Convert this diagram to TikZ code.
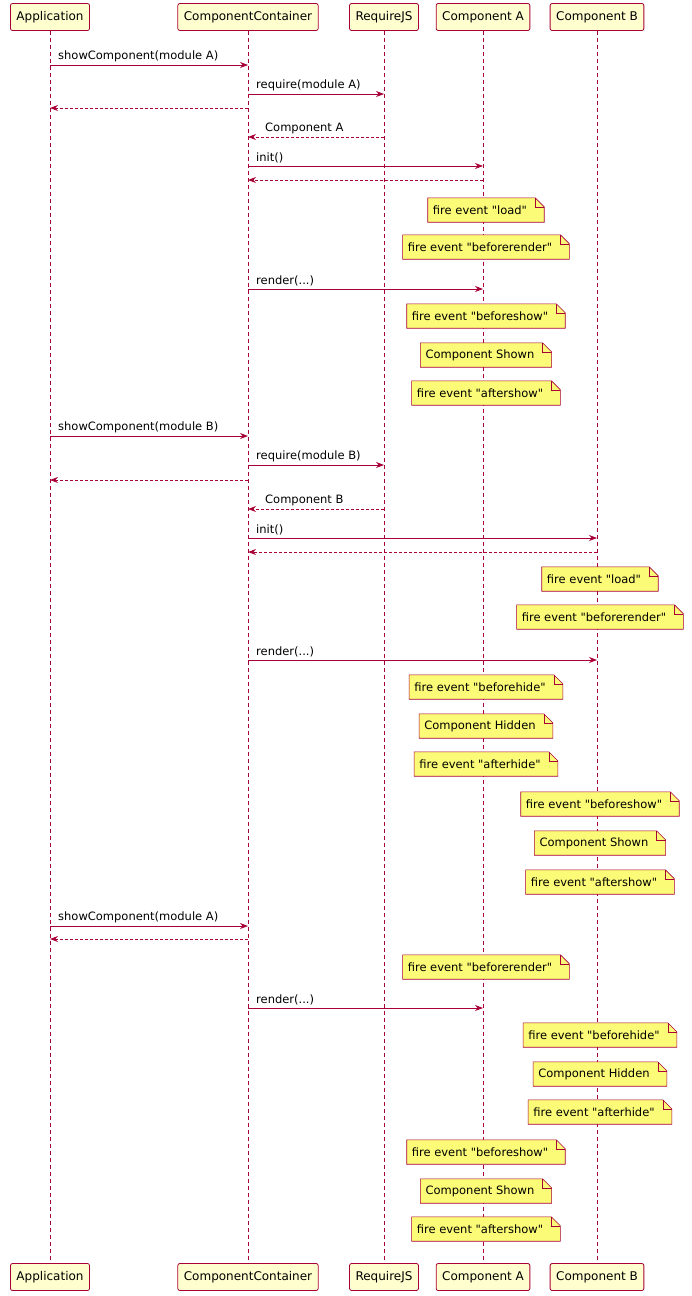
\documentclass[tikz,border=0pt]{standalone}
\usepackage{fontspec}
\setmainfont{DejaVu Sans}[Ligatures=TeXOff]
\usetikzlibrary{arrows.meta}
\definecolor{bord}{HTML}{A80036}
\definecolor{pfill}{HTML}{FEFECE}
\definecolor{nfill}{HTML}{FBFB77}
\newcommand{\q}{"}
\tikzset{
  part/.style={draw=bord,fill=pfill,line width=0.8pt,rounded corners=2pt,minimum height=27pt,inner xsep=6pt,font=\fontsize{12}{14}\selectfont},
  life/.style={draw=bord,dashed,line width=0.6pt,dash pattern=on 4pt off 3pt},
  msg/.style={draw=bord,line width=0.8pt,-{Stealth[length=8pt,width=6pt]}},
  ret/.style={msg,dash pattern=on 3pt off 2pt},
  lbl/.style={font=\fontsize{11.5}{13}\selectfont,anchor=south west,inner sep=2pt},
  notetxt/.style={font=\fontsize{11.5}{13}\selectfont,minimum height=24pt,inner xsep=0pt,inner ysep=0pt}
}
\newcommand{\mynote}[4]{%
  \node[notetxt] (#1) at (#2,#3) {\phantom{#4}};
  \path (#1.west) ++(-8pt,0) coordinate (#1w) (#1.east) ++(14pt,0) coordinate (#1e);
  \fill[nfill,draw=bord,line width=0.6pt] (#1w|-#1.north) -- ([xshift=-9pt]#1e|-#1.north) -- ([yshift=-9pt]#1e|-#1.north) -- (#1e|-#1.south) -- (#1w|-#1.south) -- cycle;
  \draw[bord,line width=0.6pt] ([xshift=-9pt]#1e|-#1.north) -- ([xshift=-9pt,yshift=-9pt]#1e|-#1.north) -- ([yshift=-9pt]#1e|-#1.north);
  \node[notetxt] at ([xshift=-3pt]#1) {#4};}
\begin{document}
\begin{tikzpicture}[x=1pt,y=-1pt]
\useasboundingbox (0,0) rectangle (691,1296);
\def\xa{50}\def\xc{248}\def\xr{384}\def\xA{483}\def\xB{597}
\foreach \n/\x/\t in {app/\xa/Application,cc/\xc/ComponentContainer,rj/\xr/RequireJS,ca/\xA/Component A,cb/\xB/Component B}{
  \node[part] (\n t) at (\x,17) {\t};
  \node[part] (\n b) at (\x,1277) {\t};
  \draw[life] (\n t.south) -- (\n b.north);
}
\newcommand{\m}[4]{\draw[msg] (#1,#3) -- (#2,#3); \node[lbl] at (#1+6,#3-1) {#4};}
\newcommand{\rl}[4]{\draw[ret] (#1,#3) -- (#2,#3); \node[lbl] at (#2+15,#3-1) {#4};}
\m{\xa}{\xc}{65}{showComponent(module A)}
\m{\xc}{\xr}{94}{require(module A)}
\rl{\xc}{\xa}{108}{}
\rl{\xr}{\xc}{137}{Component A}
\m{\xc}{\xA}{166}{init()}
\rl{\xA}{\xc}{180}{}
\mynote{n1}{\xA}{210}{fire event \q load\q}
\mynote{n2}{\xA}{247}{fire event \q beforerender\q}
\m{\xc}{\xA}{289}{render(...)}
\mynote{n3}{\xA}{316}{fire event \q beforeshow\q}
\mynote{n4}{\xA}{355}{Component Shown}
\mynote{n5}{\xA}{393}{fire event \q aftershow\q}
\m{\xa}{\xc}{436}{showComponent(module B)}
\m{\xc}{\xr}{465}{require(module B)}
\rl{\xc}{\xa}{480}{}
\rl{\xr}{\xc}{509}{Component B}
\m{\xc}{\xB}{538}{init()}
\rl{\xB}{\xc}{552}{}
\mynote{n6}{\xB}{579}{fire event \q load\q}
\mynote{n7}{\xB}{617}{fire event \q beforerender\q}
\m{\xc}{\xB}{660}{render(...)}
\mynote{n8}{\xA}{687}{fire event \q beforehide\q}
\mynote{n9}{\xA}{726}{Component Hidden}
\mynote{n10}{\xA}{764}{fire event \q afterhide\q}
\mynote{n11}{\xB}{804}{fire event \q beforeshow\q}
\mynote{n12}{\xB}{843}{Component Shown}
\mynote{n13}{\xB}{882}{fire event \q aftershow\q}
\m{\xa}{\xc}{926}{showComponent(module A)}
\rl{\xc}{\xa}{939}{}
\mynote{n14}{\xA}{967}{fire event \q beforerender\q}
\m{\xc}{\xA}{1008}{render(...)}
\mynote{n15}{\xB}{1035}{fire event \q beforehide\q}
\mynote{n16}{\xB}{1074}{Component Hidden}
\mynote{n17}{\xB}{1112}{fire event \q afterhide\q}
\mynote{n18}{\xA}{1152}{fire event \q beforeshow\q}
\mynote{n19}{\xA}{1191}{Component Shown}
\mynote{n20}{\xA}{1229}{fire event \q aftershow\q}
\end{tikzpicture}
\end{document}
